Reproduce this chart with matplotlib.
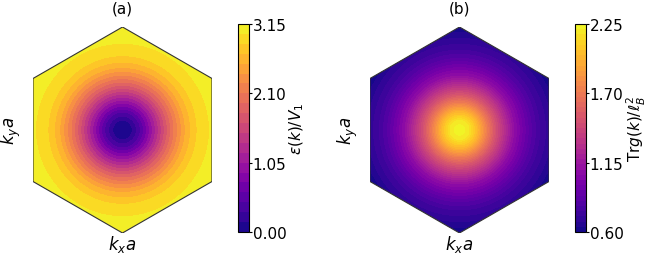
import numpy as np
import matplotlib
matplotlib.use('Agg')
import matplotlib.pyplot as plt
from matplotlib.patches import Polygon

# radial profiles (r in units of Gamma-M distance; last point = K corner)
r_pts = [0.0, 0.1, 0.2, 0.3, 0.4, 0.5, 0.6, 0.7, 0.8, 0.9, 1.0, 1.1547]
eps_vals = [0.0, 0.12, 0.45, 0.9, 1.35, 1.8, 2.2, 2.55, 2.8, 2.95, 3.02, 3.15]
trg_vals = [2.25, 2.18, 1.98, 1.72, 1.48, 1.28, 1.1, 0.97, 0.85, 0.76, 0.70, 0.60]

eps_ticks = [0.00, 1.05, 2.10, 3.15]
trg_ticks = [0.60, 1.15, 1.70, 2.25]

rK = 2/np.sqrt(3)
ang = np.pi/2 + np.arange(6)*np.pi/3
hexv = np.c_[rK*np.cos(ang), rK*np.sin(ang)]

x = np.linspace(-1.0, 1.0, 401)
y = np.linspace(-rK, rK, 461)
X, Y = np.meshgrid(x, y)
R = np.hypot(X, Y)
E = np.interp(R, r_pts, eps_vals)
T = np.interp(R, r_pts, trg_vals)

fig = plt.figure(figsize=(6.48, 2.55), dpi=100)

def panel(left, Z, lo, hi, n, ticks, title, cblabel, cbleft):
	ax = fig.add_axes([left, 21/255, 179/648, 206/255])
	lev = np.linspace(lo, hi, n+1)
	cs = ax.contourf(X, Y, np.clip(Z, lo, hi), levels=lev, cmap='plasma')
	hexp = Polygon(hexv, closed=True, fc='none', ec='#333333', lw=0.8)
	ax.add_patch(hexp)
	cs.set_clip_path(hexp)
	ax.set_xlim(-1.0, 1.0)
	ax.set_ylim(-rK, rK)
	ax.axis('off')
	ax.text(0, rK + 0.21, title, ha='center', va='center', fontsize=11)
	ax.text(0, -rK - 0.12, r'$k_xa$', ha='center', va='center', fontsize=12)
	ax.text(-1.25, 0, r'$k_ya$', ha='center', va='center', fontsize=12, rotation=90)
	cax = fig.add_axes([cbleft, 22/255, 10.5/648, 208/255])
	cb = fig.colorbar(cs, cax=cax, ticks=ticks)
	cb.ax.tick_params(length=2, pad=1)
	cb.ax.set_yticklabels(['%.2f' % t for t in ticks], fontsize=11)
	cb.set_label(cblabel, fontsize=11, labelpad=1)
	return ax

panel(33/648, E, 0.0, 3.15, 21, eps_ticks, '(a)', r'$\epsilon(k)/V_1$', 238/648)
panel(370/648, T, 0.6, 2.25, 40, trg_ticks, '(b)', r'Tr$g(k)/\ell_B^2$', 575/648)

fig.savefig('out.png', dpi=100)
